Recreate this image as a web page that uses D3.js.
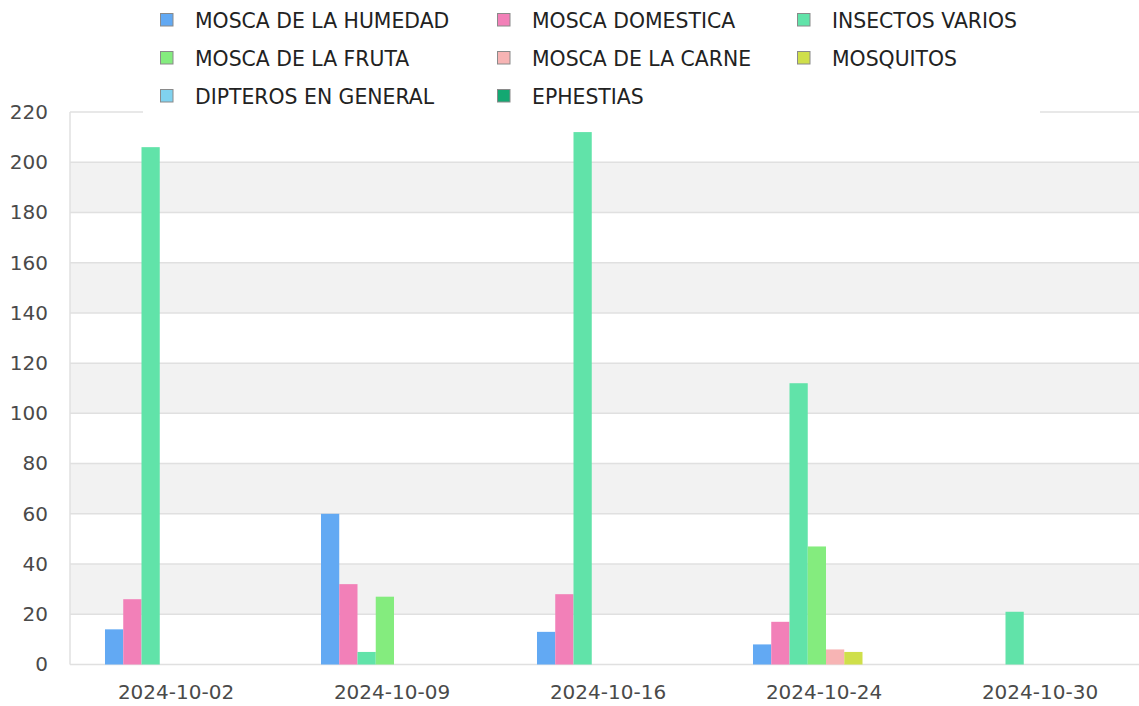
<!DOCTYPE html>
<html><head><meta charset="utf-8">
<script src="https://cdn.jsdelivr.net/npm/d3@7"></script>
<style>
html,body{margin:0;padding:0;background:#fff;overflow:hidden}
text{font-family:"DejaVu Sans",sans-serif}
</style></head>
<body><svg id="c" width="1139" height="706"></svg>
<script>
const categories = ["2024-10-02","2024-10-09","2024-10-16","2024-10-24","2024-10-30"];
const seriesNames = ["MOSCA DE LA HUMEDAD","MOSCA DOMESTICA","INSECTOS VARIOS","MOSCA DE LA FRUTA","MOSCA DE LA CARNE","MOSQUITOS","DIPTEROS EN GENERAL","EPHESTIAS"];
const seriesColors = ["#62a9f3","#f280b8","#61e3a9","#84ec7e","#f7b4b4","#cfdf4a","#80d2ef","#13a872"];
const moscaHumedad = [14,60,13,8,0];
const moscaDomestica = [26,32,28,17,0];
const insectosVarios = [206,5,212,112,21];
const moscaFruta = [0,27,0,47,0];
const moscaCarne = [0,0,0,6,0];
const mosquitos = [0,0,0,5,0];
const dipteros = [0,0,0,0,0];
const ephestias = [0,0,0,0,0];
const yTicks = [0,20,40,60,80,100,120,140,160,180,200,220];

const seriesValues = [moscaHumedad,moscaDomestica,insectosVarios,moscaFruta,moscaCarne,mosquitos,dipteros,ephestias];

const svg = d3.select("#c");
const L = 70, R = 1150, T = 112, B = 664.5;
const x0 = d3.scaleBand().domain(categories).range([L,R]).paddingInner(0.324).paddingOuter(0.162);
const x1 = d3.scaleBand().domain(seriesNames).range([0,x0.bandwidth()]);
const y = d3.scaleLinear().domain([0,220]).range([B,T]);

// alternating bands
const g = svg.append("g");
for (let i=0;i<yTicks.length-1;i++){
  if (i%2===1){
    g.append("rect").attr("x",L).attr("width",R-L)
     .attr("y",y(yTicks[i+1])).attr("height",y(yTicks[i])-y(yTicks[i+1]))
     .attr("fill","#f2f2f2");
  }
}
// gridlines
g.selectAll("line.grid").data(yTicks).enter().append("line")
  .attr("x1",L).attr("x2",R).attr("y1",d=>y(d)).attr("y2",d=>y(d))
  .attr("stroke","#e0e0e0").attr("stroke-width",1.5);
// left axis line
g.append("line").attr("x1",L).attr("x2",L).attr("y1",T).attr("y2",B)
  .attr("stroke","#e0e0e0").attr("stroke-width",1.5);

// y axis labels
const yAxis = d3.axisLeft(y).tickValues(yTicks).tickSize(0).tickPadding(22);
const ya = svg.append("g").attr("transform",`translate(${L},0)`).call(yAxis);
ya.select(".domain").remove();
ya.selectAll("text").attr("font-size",20).attr("fill","#4a4a4a").attr("font-family","DejaVu Sans");

// x axis labels
const xAxis = d3.axisBottom(x0).tickSize(0).tickPadding(20);
const xa = svg.append("g").attr("transform",`translate(0,${B})`).call(xAxis);
xa.select(".domain").remove();
xa.selectAll("text").attr("font-size",20).attr("fill","#4a4a4a").attr("font-family","DejaVu Sans").attr("dx",-2);

// bars
const data = categories.map((c,ci)=>({c, vals: seriesNames.map((s,si)=>({s, v: seriesValues[si][ci], col: seriesColors[si]}))}));
const grp = svg.append("g").selectAll("g").data(data).enter().append("g")
  .attr("transform",d=>`translate(${x0(d.c)},0)`);
grp.selectAll("rect").data(d=>d.vals.filter(v=>v.v>0)).enter().append("rect")
  .attr("x",d=>x1(d.s)).attr("width",x1.bandwidth())
  .attr("y",d=>y(d.v)).attr("height",d=>B-y(d.v))
  .attr("fill",d=>d.col);

// legend
svg.append("rect").attr("x",143).attr("y",0).attr("width",897).attr("height",113).attr("fill","#fff");
const colX = [160,497,797];
const rowY = [20,58,96];
const lg = svg.append("g").selectAll("g").data(seriesNames).enter().append("g")
  .attr("transform",(d,i)=>`translate(${colX[i%3]},${rowY[Math.floor(i/3)]})`);
lg.append("rect").attr("x",0.5).attr("y",-6.5).attr("width",12.5).attr("height",12.5)
  .attr("fill",(d,i)=>seriesColors[i]).attr("stroke","#8a8a8a").attr("stroke-width",1);
lg.append("text").attr("x",35).attr("y",7.5).attr("font-size",20.4).attr("fill","#222").text(d=>d);
</script></body></html>
